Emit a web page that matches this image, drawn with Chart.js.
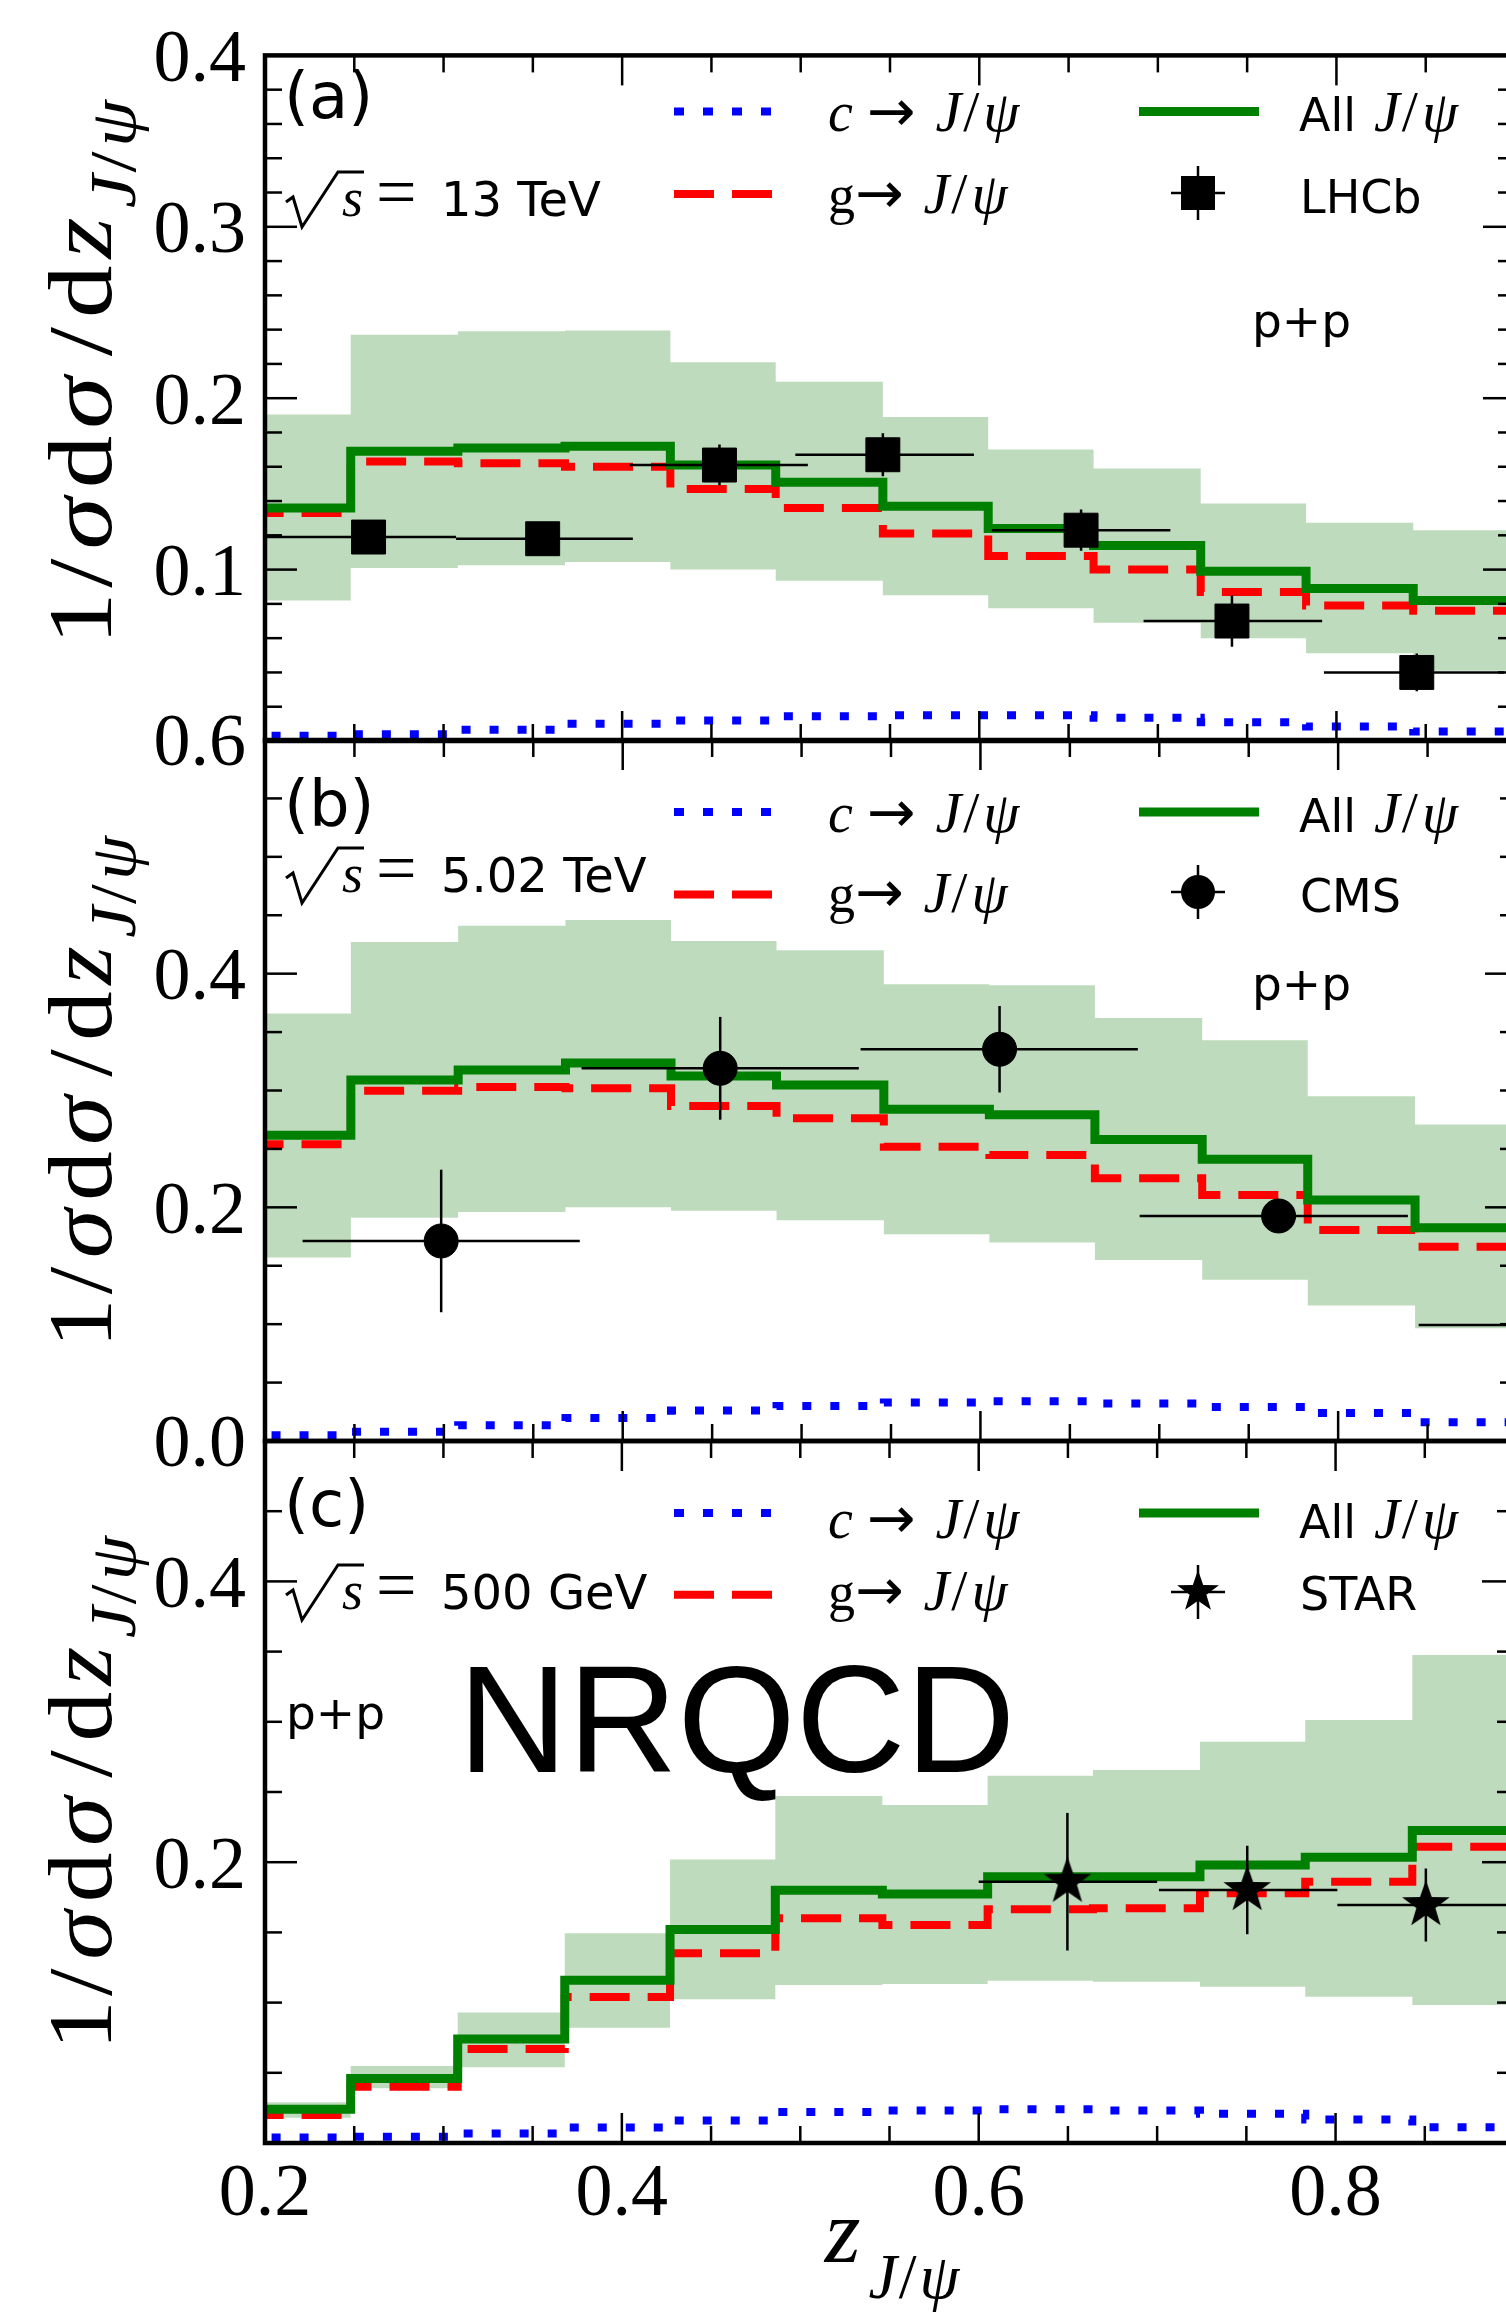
<!DOCTYPE html>
<html>
<head>
<meta charset="utf-8">
<script src="https://cdn.jsdelivr.net/npm/chart.js@4.4.1/dist/chart.umd.min.js"></script>
<style>
  html, body { margin: 0; padding: 0; background: #fff; width: 1506px; height: 2322px; overflow: hidden; }
  canvas { position: absolute; left: 0; top: 0; }
</style>
</head>
<body>
<canvas id="panelA" width="1540" height="2322"></canvas>
<canvas id="panelB" width="1540" height="2322"></canvas>
<canvas id="panelC" width="1540" height="2322"></canvas>
<script>
// bin edges in z_J/psi (12 bins, same for all panels)
const binEdges = [0.188, 0.248, 0.308, 0.368, 0.427, 0.486, 0.546, 0.605, 0.664, 0.724, 0.783, 0.843, 0.903];

// (a) p+p 13 TeV, LHCb
const allA   = [0.136, 0.169, 0.171, 0.172, 0.161, 0.151, 0.137, 0.124, 0.114, 0.099, 0.089, 0.082];
const gluA   = [0.133, 0.163, 0.162, 0.160, 0.147, 0.136, 0.121, 0.108, 0.100, 0.087, 0.079, 0.076];
const charmA = [0.003, 0.004, 0.0065, 0.010, 0.012, 0.0145, 0.015, 0.015, 0.0135, 0.011, 0.0085, 0.0055];
const bandLoA = [0.082, 0.101, 0.1025, 0.1045, 0.100, 0.0935, 0.085, 0.0775, 0.069, 0.060, 0.0512, 0.041];
const bandHiA = [0.1905, 0.237, 0.239, 0.2395, 0.221, 0.2096, 0.189, 0.170, 0.159, 0.1386, 0.1273, 0.1229];
const lhcbZ    = [0.258, 0.3555, 0.4545, 0.546, 0.657, 0.7415, 0.845];
const lhcbY    = [0.119, 0.118, 0.161, 0.167, 0.123, 0.070, 0.040];
const lhcbZLo  = [0.200, 0.307, 0.404, 0.497, 0.607, 0.692, 0.793];
const lhcbZHi  = [0.307, 0.406, 0.504, 0.597, 0.707, 0.792, 0.894];
const lhcbYErr = [0.005, 0.0065, 0.012, 0.0125, 0.012, 0.015, 0.011];

// (b) p+p 5.02 TeV, CMS
const allB   = [0.2616, 0.309, 0.3176, 0.3235, 0.3124, 0.3047, 0.2839, 0.2793, 0.258, 0.2411, 0.2063, 0.1825];
const gluB   = [0.254, 0.2997, 0.303, 0.302, 0.2867, 0.2762, 0.2519, 0.2448, 0.225, 0.2106, 0.1806, 0.1663];
const charmB = [0.005, 0.008, 0.0134, 0.0197, 0.026, 0.030, 0.033, 0.034, 0.032, 0.029, 0.024, 0.016];
const bandLoB = [0.157, 0.191, 0.196, 0.200, 0.197, 0.189, 0.177, 0.170, 0.155, 0.138, 0.116, 0.0965];
const bandHiB = [0.366, 0.427, 0.441, 0.446, 0.428, 0.420, 0.391, 0.390, 0.362, 0.343, 0.295, 0.271];
const cmsZ    = [0.2985, 0.4545, 0.6107, 0.7667, 0.922];
const cmsY    = [0.1712, 0.319, 0.3353, 0.1926, 0.0993];
const cmsZLo  = [0.221, 0.377, 0.533, 0.689, 0.845];
const cmsZHi  = [0.376, 0.532, 0.688, 0.839, 0.998];
const cmsYErr = [0.061, 0.044, 0.037, 0.008, 0.010];

// (c) p+p 500 GeV, STAR
const allC   = [0.024, 0.046, 0.074, 0.116, 0.152, 0.180, 0.1774, 0.1897, 0.1897, 0.198, 0.2035, 0.2225];
const gluC   = [0.020, 0.040, 0.067, 0.104, 0.1351, 0.160, 0.1553, 0.1664, 0.1672, 0.1779, 0.1861, 0.211];
const charmC = [0.004, 0.0045, 0.0068, 0.011, 0.016, 0.022, 0.0232, 0.024, 0.0232, 0.0208, 0.0168, 0.0112];
const bandLoC = [0.018, 0.039, 0.054, 0.082, 0.1023, 0.1125, 0.1132, 0.1155, 0.1149, 0.1113, 0.1042, 0.0983];
const bandHiC = [0.029, 0.0548, 0.0929, 0.1494, 0.202, 0.2472, 0.2407, 0.2615, 0.2657, 0.2858, 0.3013, 0.3476];
const starZ    = [0.6497, 0.7505, 0.8506];
const starY    = [0.1861, 0.1802, 0.1695];
const starZLo  = [0.600, 0.701, 0.801];
const starZHi  = [0.700, 0.801, 0.901];
const starYErr = [0.049, 0.0315, 0.026];

// ticks
const xTicks = [0.2, 0.25, 0.3, 0.35, 0.4, 0.45, 0.5, 0.55, 0.6, 0.65, 0.7, 0.75, 0.8, 0.85, 0.9];
const xTickLabels = ['0.2', '0.4', '0.6', '0.8'];
const yTickLabelsA = ['0.1', '0.2', '0.3', '0.4'];
const yTickLabelsB = ['0.0', '0.2', '0.4', '0.6'];
const yTickLabelsC = ['0.2', '0.4'];

const SERIF = '"Liberation Serif", "DejaVu Serif", serif';
const SANS = '"DejaVu Sans", "Liberation Sans", sans-serif';
const ARIAL = '"Liberation Sans", Arial, sans-serif';
const ARROW = '"DejaVu Sans", sans-serif';
const GREEN = '#008000', RED = '#ff0000', BLUE = '#0000ff', BAND = '#bfdbbd';

function range(lo, hi, step) {
  const out = [];
  const n = Math.round((hi - lo) / step);
  for (let i = 0; i <= n; i++) out.push(Math.round((lo + i * step) * 1000) / 1000);
  return out;
}

function steps(vals) {
  return binEdges.map((e, i) => ({x: e, y: vals[Math.min(i, vals.length - 1)]}));
}
function pts(zs, ys) {
  return zs.map((z, i) => ({x: z, y: ys[i]}));
}
function labelFor(list, v) {
  return list.find(l => Math.abs(parseFloat(l) - v) < 1e-6) || '';
}
function isMajor(v, step) {
  return Math.abs(v / step - Math.round(v / step)) < 1e-6;
}

// filled five-point star used as point style
function makeStar(r) {
  const c = document.createElement('canvas');
  c.width = c.height = Math.ceil(2 * r + 4);
  const g = c.getContext('2d');
  g.translate(c.width / 2, c.height / 2);
  g.beginPath();
  for (let i = 0; i < 10; i++) {
    const ang = -Math.PI / 2 + i * Math.PI / 5;
    const rr = i % 2 === 0 ? r : r * 0.4;
    g.lineTo(rr * Math.cos(ang), rr * Math.sin(ang));
  }
  g.closePath();
  g.fillStyle = '#000';
  g.fill();
  return c;
}
const starImg = makeStar(25);
const starLegendImg = makeStar(22);

function rich(ctx, x, y, parts) {
  let cx = x;
  for (const p of parts) {
    cx += p.dx || 0;
    ctx.font = p.f;
    ctx.fillText(p.t, cx, y + (p.dy || 0));
    cx += ctx.measureText(p.t).width;
  }
  return cx - x;
}
function richWidth(ctx, parts) {
  let w = 0;
  for (const p of parts) {
    ctx.font = p.f;
    w += (p.dx || 0) + ctx.measureText(p.t).width;
  }
  return w;
}
function seg(ctx, x1, y1, x2, y2) {
  ctx.beginPath(); ctx.moveTo(x1, y1); ctx.lineTo(x2, y2); ctx.stroke();
}

function jpsi(size, dx) {
  return [
    {t: 'J', f: `italic ${size}px ${SERIF}`, dx: dx},
    {t: '/', f: `${size}px ${SERIF}`, dx: 2},
    {t: 'ψ', f: `italic ${size}px ${SERIF}`, dx: 4}
  ];
}

function drawFrameAndTicks(chart, yMajor) {
  const {ctx, chartArea: a, scales: {x, y}} = chart;
  ctx.save();
  ctx.strokeStyle = '#000';
  ctx.lineWidth = 2.5;
  x.ticks.forEach(t => {
    const px = x.getPixelForValue(t.value);
    const len = isMajor(t.value, 0.2) ? 30 : 17;
    seg(ctx, px, a.top, px, a.top + len);
    seg(ctx, px, a.bottom, px, a.bottom - len);
  });
  y.ticks.forEach(t => {
    const py = y.getPixelForValue(t.value);
    const len = isMajor(t.value, yMajor) ? 32 : 17;
    seg(ctx, a.left, py, a.left + len, py);
    seg(ctx, a.right, py, a.right - len, py);
  });
  ctx.lineWidth = 4.5;
  ctx.strokeRect(a.left, a.top, a.right - a.left, a.bottom - a.top);
  ctx.restore();
}

function drawErrorBars(chart, e) {
  const {ctx, chartArea: a, scales: {x, y}} = chart;
  ctx.save();
  ctx.beginPath();
  ctx.rect(a.left, a.top, a.right - a.left, a.bottom - a.top);
  ctx.clip();
  ctx.strokeStyle = '#000';
  ctx.lineWidth = 2.5;
  e.z.forEach((z, i) => {
    const px = x.getPixelForValue(z);
    const py = y.getPixelForValue(e.y[i]);
    seg(ctx, x.getPixelForValue(e.zlo[i]), py, x.getPixelForValue(e.zhi[i]), py);
    seg(ctx, px, y.getPixelForValue(e.y[i] - e.yerr[i]), px, y.getPixelForValue(e.y[i] + e.yerr[i]));
  });
  ctx.restore();
}

function drawMarker(ctx, kind, x, y) {
  ctx.save();
  ctx.strokeStyle = '#000';
  ctx.fillStyle = '#000';
  ctx.lineWidth = 2.5;
  seg(ctx, x - 27, y, x + 27, y);
  seg(ctx, x, y - 27, x, y + 27);
  if (kind === 'rect') ctx.fillRect(x - 17, y - 17, 34, 34);
  else if (kind === 'circle') { ctx.beginPath(); ctx.arc(x, y, 17, 0, 2 * Math.PI); ctx.fill(); }
  else ctx.drawImage(starLegendImg, x - starLegendImg.width / 2, y - starLegendImg.height / 2);
  ctx.restore();
}

function drawEnergy(ctx, x0, y0, label) {
  ctx.save();
  ctx.strokeStyle = '#000';
  ctx.lineWidth = 3;
  ctx.beginPath();
  ctx.moveTo(x0, y0 - 14);
  ctx.lineTo(x0 + 7, y0 - 19);
  ctx.lineTo(x0 + 16, y0 + 11);
  ctx.lineTo(x0 + 52, y0 - 44);
  ctx.lineTo(x0 + 78, y0 - 44);
  ctx.stroke();
  ctx.restore();
  ctx.font = `italic 54px ${SERIF}`;
  ctx.fillText('s', x0 + 56, y0);
  ctx.font = `72px ${SERIF}`;
  ctx.fillText('=', x0 + 90, y0);
  ctx.font = `48px ${SANS}`;
  ctx.fillText(label, x0 + 155, y0);
}

function drawLegend(ctx, p) {
  const [r1, r2] = p.rowY;
  const [t1, t2] = p.textY;
  ctx.save();
  ctx.lineCap = 'butt';
  ctx.lineWidth = 8;
  ctx.strokeStyle = BLUE;
  ctx.setLineDash([10, 19]);
  seg(ctx, 674, r1, 772, r1);
  ctx.strokeStyle = RED;
  ctx.setLineDash([40, 18]);
  seg(ctx, 674, r2, 772, r2);
  ctx.setLineDash([]);
  ctx.strokeStyle = GREEN;
  ctx.lineWidth = 9;
  seg(ctx, 1139, r1, 1259, r1);
  ctx.restore();

  rich(ctx, 828, t1, [
    {t: 'c', f: `italic 56px ${SERIF}`},
    {t: '→', f: `58px ${ARROW}`, dx: 14}
  ].concat(jpsi(58, 20)));
  rich(ctx, 828, t2, [
    {t: 'g', f: `54px ${SERIF}`},
    {t: '→', f: `58px ${ARROW}`, dx: 0}
  ].concat(jpsi(58, 20)));
  rich(ctx, 1299, t1, [{t: 'All', f: `46px ${SANS}`}].concat(jpsi(58, 18)));
  drawMarker(ctx, p.marker, 1198, p.markerY);
  ctx.font = `46px ${SANS}`;
  ctx.fillText(p.markerLabel, 1300, t2);
}

// rotated y-axis title, stretched to span from yBottom up to yTop
function drawYTitle(ctx, yBottom, yTop) {
  const F = `92px ${SERIF}`, FI = `italic 92px ${SERIF}`;
  const parts = [
    {t: '1', f: F},
    {t: '/', f: F, dx: 4},
    {t: 'σ', f: FI, dx: 8},
    {t: 'd', f: F, dx: 8},
    {t: 'σ', f: FI, dx: 6},
    {t: '/', f: F, dx: 18},
    {t: 'd', f: F, dx: 8},
    {t: 'z', f: FI, dx: 6},
    {t: 'J', f: `italic 66px ${SERIF}`, dx: 8, dy: 24},
    {t: '/', f: `66px ${SERIF}`, dx: 2, dy: 24},
    {t: 'ψ', f: `italic 66px ${SERIF}`, dx: 4, dy: 24}
  ];
  ctx.save();
  ctx.translate(111, yBottom);
  ctx.rotate(-Math.PI / 2);
  const w = richWidth(ctx, parts);
  ctx.scale((yBottom - yTop) / w, 1);
  rich(ctx, 0, 0, parts);
  ctx.restore();
}

function drawXTitle(ctx) {
  const parts = [
    {t: 'z', f: `italic 92px ${SERIF}`},
    {t: 'J', f: `italic 64px ${SERIF}`, dx: 8, dy: 36},
    {t: '/', f: `64px ${SERIF}`, dx: 2, dy: 36},
    {t: 'ψ', f: `italic 64px ${SERIF}`, dx: 3, dy: 36}
  ];
  const w = richWidth(ctx, parts);
  rich(ctx, 892 - w / 2, 2262, parts);
}

function decoPlugin(p) {
  return {
    id: 'deco' + p.id,
    afterDatasetsDraw(chart) {
      drawErrorBars(chart, p.err);
    },
    afterDraw(chart) {
      const ctx = chart.ctx;
      drawFrameAndTicks(chart, p.yMajor);
      ctx.save();
      ctx.fillStyle = '#000';
      ctx.textAlign = 'left';
      ctx.textBaseline = 'alphabetic';
      ctx.font = `64px ${SANS}`;
      ctx.fillText(p.tag, 284, p.tagY);
      drawEnergy(ctx, 286, p.energyY, p.energy);
      ctx.font = `47px ${SANS}`;
      ctx.fillText('p+p', p.ppX, p.ppY);
      drawLegend(ctx, p);
      drawYTitle(ctx, p.titleBottom, p.titleTop);
      if (p.nrqcd) {
        ctx.font = `152px ${ARIAL}`;
        ctx.fillText('NRQCD', 458, 1772);
      }
      if (p.xLabels) drawXTitle(ctx);
      ctx.restore();
    }
  };
}

function makePanel(p) {
  const lineBase = {stepped: true, pointRadius: 0, clip: 0, fill: false};
  const datasets = [
    {data: pts(p.err.z, p.err.y), showLine: false, pointStyle: p.pointStyle, pointRadius: p.pointRadius,
     pointBackgroundColor: '#000', pointBorderColor: '#000', pointBorderWidth: 1, order: 0},
    Object.assign({data: steps(p.all), borderColor: GREEN, borderWidth: 9, order: 1}, lineBase),
    Object.assign({data: steps(p.charm), borderColor: BLUE, borderWidth: 8, borderDash: [9, 19], order: 2}, lineBase),
    Object.assign({data: steps(p.glu), borderColor: RED, borderWidth: 8, borderDash: [40, 18], order: 3}, lineBase),
    Object.assign({}, lineBase, {data: steps(p.hi), borderColor: 'transparent', borderWidth: 0, backgroundColor: BAND, fill: '+1', order: 4}),
    Object.assign({data: steps(p.lo), borderColor: 'transparent', borderWidth: 0, order: 5}, lineBase)
  ];
  return new Chart(document.getElementById(p.id), {
    type: 'line',
    data: {datasets: datasets},
    options: {
      responsive: false,
      animation: false,
      devicePixelRatio: 1,
      layout: {padding: {left: 0, right: 23, top: p.top, bottom: p.padBottom}},
      plugins: {legend: {display: false}, tooltip: {enabled: false}},
      scales: {
        x: {
          type: 'linear', min: 0.2, max: 0.9,
          grid: {display: false}, border: {display: false},
          ticks: {display: p.xLabels, autoSkip: false, maxRotation: 0, padding: 0, color: '#000',
                  font: {family: SERIF, size: 74}, callback: v => labelFor(xTickLabels, v)},
          afterBuildTicks: s => { s.ticks = xTicks.map(v => ({value: v})); },
          afterFit: s => { s.height = p.xHeight; }
        },
        y: {
          type: 'linear', min: 0, max: p.yMax,
          grid: {display: false}, border: {display: false},
          ticks: {autoSkip: false, padding: 11, labelOffset: 6, color: '#000',
                  font: {family: SERIF, size: 74}, callback: v => labelFor(p.yLabels, v)},
          afterBuildTicks: s => { s.ticks = p.yTicks.map(v => ({value: v})); },
          afterFit: s => { s.width = 265; }
        }
      }
    },
    plugins: [decoPlugin(p)]
  });
}

makePanel({
  id: 'panelA', top: 38, padBottom: 2322 - 741, xHeight: 0, xLabels: false,
  yMax: 0.4, yMajor: 0.1, yTicks: range(0, 0.4, 0.02), yLabels: yTickLabelsA,
  all: allA, glu: gluA, charm: charmA, lo: bandLoA, hi: bandHiA,
  err: {z: lhcbZ, y: lhcbY, zlo: lhcbZLo, zhi: lhcbZHi, yerr: lhcbYErr},
  pointStyle: 'rect', pointRadius: 24,
  tag: '(a)', tagY: 118, energy: '13 TeV', energyY: 216, ppX: 1252, ppY: 337,
  rowY: [111.5, 194], textY: [131, 213], marker: 'rect', markerY: 193, markerLabel: 'LHCb',
  titleBottom: 645, titleTop: 100
});

makePanel({
  id: 'panelB', top: 740, padBottom: 2322 - 1441, xHeight: 0, xLabels: false,
  yMax: 0.6, yMajor: 0.2, yTicks: range(0, 0.6, 0.05), yLabels: yTickLabelsB,
  all: allB, glu: gluB, charm: charmB, lo: bandLoB, hi: bandHiB,
  err: {z: cmsZ, y: cmsY, zlo: cmsZLo, zhi: cmsZHi, yerr: cmsYErr},
  pointStyle: 'circle', pointRadius: 17,
  tag: '(b)', tagY: 826, energy: '5.02 TeV', energyY: 892, ppX: 1252, ppY: 1000,
  rowY: [812, 894.5], textY: [832, 912], marker: 'circle', markerY: 892, markerLabel: 'CMS',
  titleBottom: 1348, titleTop: 836
});

makePanel({
  id: 'panelC', top: 1441, padBottom: 0, xHeight: 2322 - 2143, xLabels: true,
  yMax: 0.5, yMajor: 0.2, yTicks: range(0, 0.5, 0.05), yLabels: yTickLabelsC,
  all: allC, glu: gluC, charm: charmC, lo: bandLoC, hi: bandHiC,
  err: {z: starZ, y: starY, zlo: starZLo, zhi: starZHi, yerr: starYErr},
  pointStyle: starImg, pointRadius: 25,
  tag: '(c)', tagY: 1526, energy: '500 GeV', energyY: 1609, ppX: 286, ppY: 1729,
  rowY: [1513, 1594.7], textY: [1538, 1610], marker: 'star', markerY: 1592, markerLabel: 'STAR',
  titleBottom: 2050, titleTop: 1536, nrqcd: true
});
</script>
</body>
</html>
